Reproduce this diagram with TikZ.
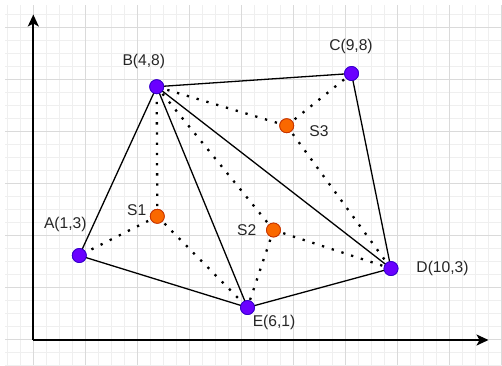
\documentclass[tikz,border=0pt]{standalone}
\usepackage{fontspec}
\setmainfont{Liberation Sans}
\usetikzlibrary{arrows.meta}
\definecolor{ptfill}{HTML}{6A00FF}
\definecolor{ptdraw}{HTML}{3700CC}
\definecolor{sfill}{HTML}{FA6800}
\definecolor{sdraw}{HTML}{C73500}
\definecolor{minorg}{HTML}{EFEFEF}
\definecolor{majorg}{HTML}{DADADA}
\tikzset{
  minorgrid/.style={draw=minorg, line width=0.8pt},
  majorgrid/.style={draw=majorg, line width=0.8pt},
  axisline/.style={line width=1.8pt, -{Stealth[length=12pt,width=11pt,inset=3pt]}},
  edgeline/.style={line width=1.3pt, black},
  dotline/.style={line width=2.3pt, black, dash pattern=on 2.3pt off 7.9pt},
  vpoint/.style={circle, minimum size=14pt, inner sep=0pt, fill=ptfill, draw=ptdraw, line width=0.8pt},
  spoint/.style={circle, minimum size=14pt, inner sep=0pt, fill=sfill, draw=sdraw, line width=0.8pt},
  lbl/.style={inner sep=0pt, font=\fontsize{15.6pt}{18pt}\selectfont, text=black!85}
}
\begin{document}
\begin{tikzpicture}[x=1pt,y=-1pt]
\useasboundingbox (0,0) rectangle (502,365);
\fill[white] (0,0) rectangle (502,365);
\begin{scope}
  \clip (5,5) rectangle (502,365);
  \foreach \k in {0,...,38} {
    \pgfmathsetmacro\xx{7.3+13*\k}
    \draw[minorgrid] (\xx,0) -- (\xx,365);
  }
  \foreach \k in {0,...,28} {
    \pgfmathsetmacro\yy{1.3+13*\k}
    \draw[minorgrid] (0,\yy) -- (502,\yy);
  }
  \foreach \k in {0,...,9} {
    \pgfmathsetmacro\xx{33.3+52*\k}
    \draw[majorgrid] (\xx,0) -- (\xx,365);
  }
  \foreach \k in {0,...,7} {
    \pgfmathsetmacro\yy{339.3-52*\k}
    \draw[majorgrid] (0,\yy) -- (502,\yy);
  }
\end{scope}
% axes
\coordinate (O) at (33.3,340);
\coordinate (Ytip) at (33.3,14.5);
\coordinate (Xtip) at (488.5,340);
\draw[axisline] (O) -- (Ytip);
\draw[axisline] (O) -- (Xtip);
% points
\node[vpoint] (A) at (79.3,255.5) {};
\node[vpoint] (B) at (156.7,86.7) {};
\node[vpoint] (C) at (351.5,73.5) {};
\node[vpoint] (D) at (391,268.5) {};
\node[vpoint] (E) at (247.5,307.5) {};
\node[spoint] (S1) at (157.3,216.3) {};
\node[spoint] (S2) at (273.5,230) {};
\node[spoint] (S3) at (286.7,125.7) {};
% solid edges
\begin{scope}[on background layer/.style={}]
\draw[edgeline] (A.center) -- (B.center);
\draw[edgeline] (A.center) -- (E.center);
\draw[edgeline] (B.center) -- (C.center);
\draw[edgeline] (C.center) -- (D.center);
\draw[edgeline] (B.center) -- (E.center);
\draw[edgeline] (B.center) -- (D.center);
\draw[edgeline] (E.center) -- (D.center);
% dotted
\draw[dotline] (S1.center) -- (A.center);
\draw[dotline] (S1.center) -- (B.center);
\draw[dotline] (S1.center) -- (E.center);
\draw[dotline] (S2.center) -- (B.center);
\draw[dotline] (S2.center) -- (E.center);
\draw[dotline] (S2.center) -- (D.center);
\draw[dotline] (S3.center) -- (B.center);
\draw[dotline] (S3.center) -- (C.center);
\draw[dotline] (S3.center) -- (D.center);
\end{scope}
% redraw points on top
\foreach \p in {A,B,C,D,E} { \node[vpoint] at (\p) {}; }
\foreach \p in {S1,S2,S3} { \node[spoint] at (\p) {}; }
% labels
\node[lbl] (lA) at (65.3,224.5) {A(1,3)};
\node[lbl] (lB) at (143.8,61.7) {B(4,8)};
\node[lbl] (lC) at (351,46.5) {C(9,8)};
\node[lbl] (lD) at (442.5,268.5) {D(10,3)};
\node[lbl] (lE) at (274,322) {E(6,1)};
\node[lbl] (lS1) at (136.7,210.5) {S1};
\node[lbl] (lS2) at (246.7,230.5) {S2};
\node[lbl] (lS3) at (319,131) {S3};
\end{tikzpicture}
\end{document}
